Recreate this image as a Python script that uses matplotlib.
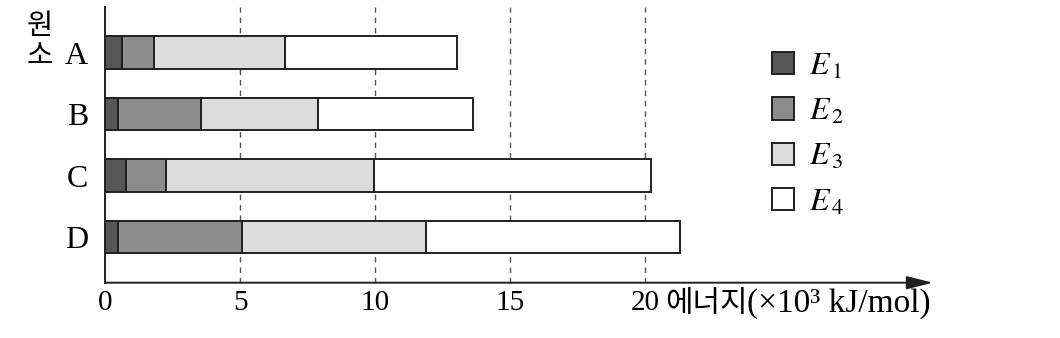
import matplotlib
matplotlib.use("Agg")
import matplotlib.pyplot as plt
from matplotlib.patches import Patch
import numpy as np

plt.rcParams['font.family'] = ['Liberation Serif', 'Noto Sans CJK KR']
plt.rcParams['mathtext.fontset'] = 'stix'

# 원소별 이온화 에너지 (×10^3 kJ/mol), 그림에서 읽은 값
elements = ['A', 'B', 'C', 'D']
series_names = [r'$E_{\,1}$', r'$E_{\,2}$', r'$E_{\,3}$', r'$E_{\,4}$']
E1 = [0.64, 0.47, 0.79, 0.47]
E2 = [1.16, 3.07, 1.46, 4.59]
E3 = [4.87, 4.34, 7.70, 6.84]
E4 = [6.36, 5.76, 10.29, 9.41]
xticks = [0, 5, 10, 15, 20]

fill_colors = ['#575757', '#8c8c8c', '#dcdcdc', '#ffffff']
edge = '#231f20'

fig = plt.figure(figsize=(10.6, 3.38), dpi=100)
ax = fig.add_axes([105 / 1060, 1 - 282.7 / 338, (933 - 105) / 1060, (282.7 - 7) / 338])

y = np.arange(len(elements))
left = np.zeros(len(elements))
for vals, col in zip([E1, E2, E3, E4], fill_colors):
    ax.barh(y, vals, left=left, height=0.53, color=col, edgecolor=edge,
            linewidth=1.4, zorder=3)
    left += np.array(vals)

ax.set_xlim(0, 828 / 27)
ax.set_ylim(3.74, -0.74)

# 점선 격자
for xt in xticks[1:]:
    ax.axvline(xt, color='#555555', linewidth=1.0, linestyle=(0, (4, 3.5)), zorder=1)

ax.set_xticks(xticks)
ax.set_xticklabels([str(v) for v in xticks], fontsize=21)
ax.set_yticks(y)
ax.set_yticklabels(elements, fontsize=23)
ax.tick_params(axis='x', length=0, pad=5)
ax.tick_params(axis='y', length=0, pad=12)

for s in ['top', 'right', 'bottom']:
    ax.spines[s].set_visible(False)
ax.spines['left'].set_linewidth(1.4)
ax.spines['left'].set_color(edge)

# x축 화살표
ax.annotate('', xy=(1, 0), xytext=(0, 0), xycoords='axes fraction',
            arrowprops=dict(arrowstyle='-|>,head_length=0.8,head_width=0.2',
                            color=edge, linewidth=1.4, mutation_scale=20,
                            shrinkA=0, shrinkB=0))

fig.text(665 / 1060, 1 - 304 / 338, '에너지', fontsize=21.5,
         ha='left', va='center', family=['Noto Sans CJK KR'])
fig.text(747 / 1060, 1 - 304 / 338, '(×10³ kJ/mol)', fontsize=24,
         ha='left', va='center', family=['Liberation Serif'])
fig.text(40 / 1060, 1 - 41 / 338, '원\n소', fontsize=20.5, ha='center', va='center',
         linespacing=1.0, family=['Noto Sans CJK KR'])

handles = [Patch(facecolor=c, edgecolor=edge, linewidth=1.4) for c in fill_colors]
ax.legend(handles, series_names, loc='upper left', bbox_to_anchor=(772 / 1060, 1 - 52 / 338),
          bbox_transform=fig.transFigure, frameon=False, fontsize=23,
          handlelength=0.7, handleheight=0.7, handletextpad=0.45, labelspacing=0.5,
          borderpad=0, borderaxespad=0)

fig.savefig('out.png', dpi=100)
